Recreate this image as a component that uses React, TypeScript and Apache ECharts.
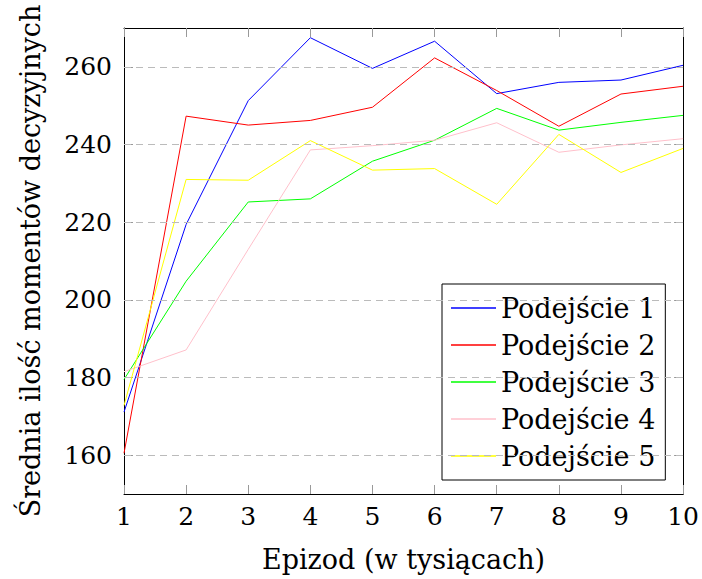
import React, { useEffect, useRef } from "react";
import * as echarts from "echarts";

const episodes = [1, 2, 3, 4, 5, 6, 7, 8, 9, 10];
const seriesNames = ["Podejście 1", "Podejście 2", "Podejście 3", "Podejście 4", "Podejście 5"];
const approach1 = [171.1, 219.4, 251.3, 267.5, 259.6, 266.6, 253.1, 256.0, 256.6, 260.4];
const approach2 = [160.5, 247.3, 245.0, 246.2, 249.6, 262.3, 253.9, 244.7, 253.0, 255.0];
const approach3 = [179.5, 204.8, 225.2, 226.0, 235.7, 241.1, 249.3, 243.7, 245.7, 247.5];
const approach4 = [181.5, 187.1, 213.0, 238.6, 239.7, 241.1, 245.6, 238.0, 239.9, 241.5];
const approach5 = [172.8, 231.0, 230.8, 241.0, 233.4, 233.8, 224.6, 242.6, 232.8, 239.0];
const yTicks = [160, 180, 200, 220, 240, 260];
const colors = ["#0000ff", "#ff0000", "#00ff00", "#ffc0cb", "#ffff00"];

const FONT = "DejaVu Serif";

export default function App() {
  const ref = useRef<HTMLDivElement>(null);
  useEffect(() => {
    if (!ref.current) return;
    const chart = echarts.init(ref.current, undefined, { renderer: "svg" });
    const all = [approach1, approach2, approach3, approach4, approach5];
    const tickStyle = { show: true, inside: true, length: 9, lineStyle: { color: "#999", width: 1 } };
    const axisLine = { show: true, onZero: false, lineStyle: { color: "#000", width: 1 } };
    chart.setOption({
      animation: false,
      grid: { left: 124, right: 17, top: 28, bottom: 85 },
      legend: {
        orient: "vertical",
        left: 442,
        top: 284,
        data: seriesNames,
        icon: "rect",
        borderColor: "#000",
        borderWidth: 1,
        backgroundColor: "#fff",
        padding: [9, 10, 9, 9],
        itemGap: 7,
        itemWidth: 45,
        itemHeight: 1.5,
        borderRadius: 0,
        textStyle: { fontFamily: FONT, fontSize: 27, color: "#000", lineHeight: 30 },
      },
      xAxis: [
        {
          type: "value",
          min: 1,
          max: 10,
          interval: 1,
          position: "bottom",
          axisLine,
          axisTick: tickStyle,
          splitLine: { show: false },
          axisLabel: { fontFamily: FONT, fontSize: 25, color: "#000", margin: 10 },
          name: "Epizod (w tysiącach)",
          nameLocation: "middle",
          nameGap: 52,
          nameTextStyle: { fontFamily: FONT, fontSize: 27, color: "#000" },
        },
        {
          type: "value",
          min: 1,
          max: 10,
          interval: 1,
          position: "top",
          axisLine,
          axisTick: tickStyle,
          splitLine: { show: false },
          axisLabel: { show: false },
        },
      ],
      yAxis: [
        {
          type: "value",
          min: 150,
          max: 270,
          interval: 10,
          position: "left",
          axisLine,
          axisTick: { ...tickStyle, customValues: yTicks },
          splitLine: { show: false },
          axisLabel: { fontFamily: FONT, fontSize: 25, color: "#000", margin: 12, customValues: yTicks },
          name: "Średnia ilość momentów decyzyjnych",
          nameLocation: "middle",
          nameGap: 80,
          nameTextStyle: { fontFamily: FONT, fontSize: 27, color: "#000" },
        },
        {
          type: "value",
          min: 150,
          max: 270,
          interval: 10,
          position: "right",
          axisLine,
          axisTick: { ...tickStyle, customValues: yTicks },
          splitLine: { show: false },
          axisLabel: { show: false },
        },
      ],
      series: [
        {
          name: "grid",
          type: "line",
          data: [],
          silent: true,
          markLine: {
            silent: true,
            symbol: ["none", "none"],
            label: { show: false },
            lineStyle: { type: [7, 5], color: "#bbb", width: 1 },
            data: yTicks.map((v) => ({ yAxis: v })),
          },
        },
        ...seriesNames.map((name, i) => ({
          name,
          type: "line",
          symbol: "none",
          color: colors[i],
          lineStyle: { color: colors[i], width: 1 },
          data: episodes.map((e, j) => [e, all[i][j]]),
        })),
      ],
    });
    return () => chart.dispose();
  }, []);
  return <div ref={ref} style={{ width: 702, height: 579, position: "absolute", left: 0, top: 0 }} />;
}
